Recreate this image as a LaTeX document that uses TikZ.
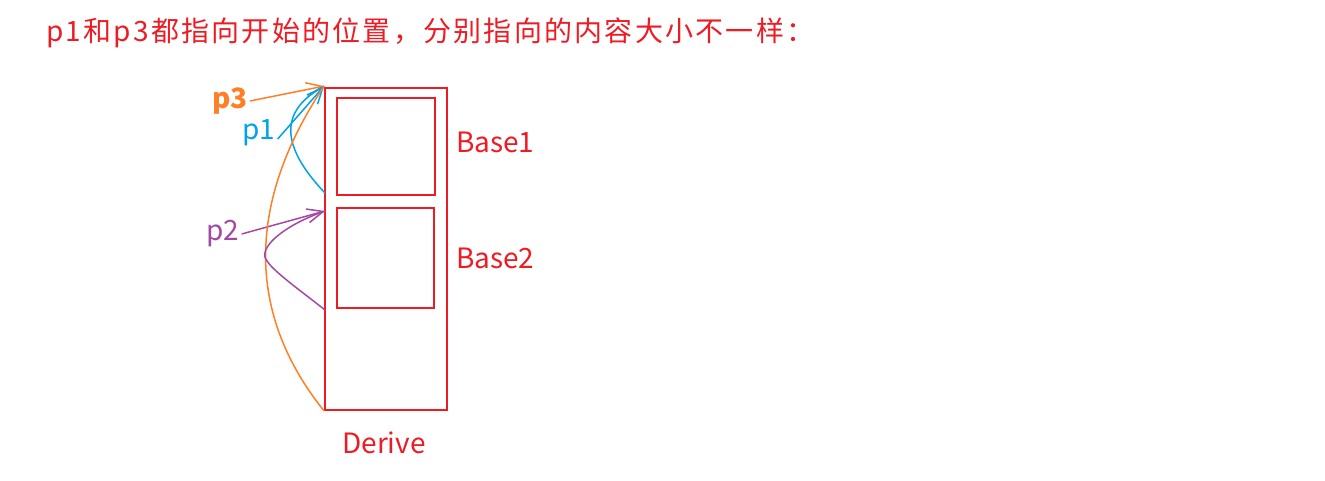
\documentclass[tikz,border=0pt]{standalone}
\usepackage{fontspec}
\setmainfont{Noto Sans CJK SC}
\usetikzlibrary{arrows.meta}
\definecolor{pred}{RGB}{237,28,36}
\definecolor{porange}{RGB}{255,127,39}
\definecolor{pblue}{RGB}{0,162,232}
\definecolor{ppurple}{RGB}{163,73,164}

\begin{document}
\begin{tikzpicture}[x=1pt,y=-1pt,>={Straight Barb[length=16pt,width=14pt]},
  box/.style={draw=pred,line width=1.8pt,inner sep=0pt},
  lab/.style={text=pred,inner sep=0pt,font=\fontsize{28}{32}\selectfont},
  ptr/.style={line width=1.5pt}]
\useasboundingbox (0,0) rectangle (1325,480);
\node[lab,anchor=west,font=\fontsize{28}{32}\selectfont\addfontfeature{LetterSpace=8}] (title) at (46,33) {p1和p3都指向开始的位置，分别指向的内容大小不一样：};
% the object and its two bases
\node[box,minimum width=122pt,minimum height=322pt] (derive) at (386,249) {};
\node[box,minimum width=98pt,minimum height=97pt] (baseone) at (386,146.5) {};
\node[box,minimum width=97pt,minimum height=100pt] (basetwo) at (385.5,258) {};
\node[lab,anchor=west] (nameone) at (456,142) {Base1};
\node[lab,anchor=west] (nametwo) at (456,258) {Base2};
\node[lab] (namederive) at (384,443) {Derive};
% pointers
\node[text=porange,inner sep=0pt,font=\fontsize{28}{32}\selectfont\bfseries] (pthree) at (230,101) {p3};
\node[text=pblue,inner sep=0pt,font=\fontsize{28}{32}\selectfont] (pone) at (259,133) {p1};
\node[text=ppurple,inner sep=0pt,font=\fontsize{28}{32}\selectfont] (ptwo) at (223,234) {p2};
\coordinate (tipone) at ([yshift=1pt]derive.north west);
\coordinate (tiptwo) at (325,211);
\coordinate (endone) at (325,193);
\coordinate (endtwo) at (325,310);
\draw[->,ptr,porange] ([xshift=2pt]pthree.east) -- (tipone);
\draw[->,ptr,pblue] ([xshift=2pt,yshift=-6pt]pone.east) -- (tipone);
\draw[->,ptr,ppurple] ([xshift=2pt]ptwo.east) -- (tiptwo);
% spans of the pointed-to parts
\draw[ptr,pblue] (tipone) .. controls (290,105) and (270,135) .. (endone);
\draw[ptr,porange] (tipone) .. controls (258,185) and (235,300) .. (derive.south west);
\draw[ptr,ppurple] (tiptwo) .. controls (285,225) and (262,245) .. (265,257)
  .. controls (268,268) and (300,290) .. (endtwo);
\end{tikzpicture}
\end{document}
